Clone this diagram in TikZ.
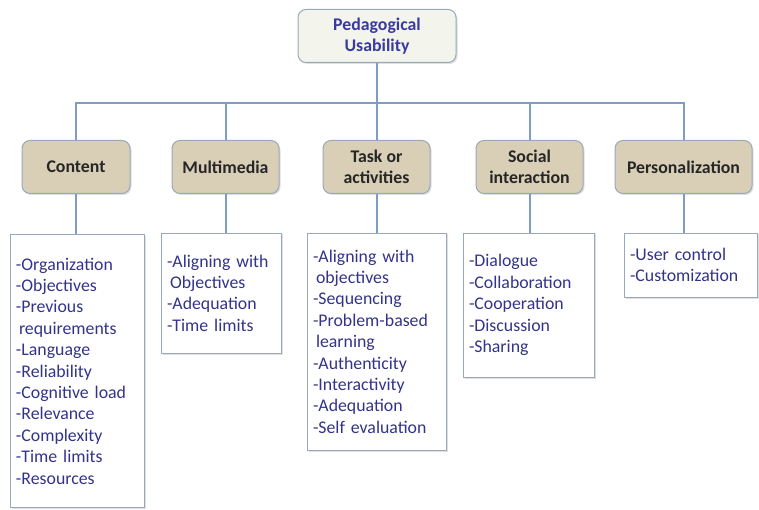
\documentclass[tikz,border=0pt]{standalone}
\usepackage{fontspec}
\setmainfont{Carlito}
\usetikzlibrary{shadows}
\definecolor{linec}{HTML}{7E9CC6}
\definecolor{listtxt}{HTML}{33338A}
\definecolor{toptxt}{HTML}{3A3A9E}
\definecolor{catfill}{HTML}{D8CFB6}
\definecolor{topfill}{HTML}{F3F5EC}
\definecolor{boxedge}{HTML}{9AA8BC}
\begin{document}
\begin{tikzpicture}[x=1pt,y=-1pt,
  conn/.style={draw=linec,line width=2pt},
  topbox/.style={draw=boxedge,line width=1pt,fill=topfill,rounded corners=8pt,
    align=center,font=\fontsize{17.8}{21.4}\selectfont\bfseries,text=toptxt,
    drop shadow={opacity=0.25,shadow xshift=1.5pt,shadow yshift=-1.5pt}},
  catbox/.style={draw=boxedge,line width=1pt,fill=catfill,rounded corners=8pt,
    align=center,font=\fontsize{17.8}{21.4}\selectfont\bfseries,text=black!85,
    minimum height=53pt,inner sep=0pt,
    drop shadow={opacity=0.25,shadow xshift=1.5pt,shadow yshift=-1.5pt}},
  listbox/.style={draw=boxedge,line width=0.9pt,fill=white,align=left,
    font=\fontsize{17.8}{21.4}\selectfont,text=listtxt,inner xsep=6pt,inner ysep=0pt,
    drop shadow={opacity=0.25,shadow xshift=1.5pt,shadow yshift=-1.5pt}},
]
\useasboundingbox (0,0) rectangle (759,510);

\node[topbox,minimum width=158pt,minimum height=53pt,inner sep=0pt] (top) at (377,36)
  {Pedagogical\\Usability};

\node[catbox,minimum width=108pt] (c1) at (76,167) {Content};
\node[catbox,minimum width=107pt] (c2) at (225.5,167) {Multimedia};
\node[catbox,minimum width=107pt] (c3) at (376.5,167) {Task or\\activities};
\node[catbox,minimum width=107pt] (c4) at (529.5,167) {Social\\interaction};
\node[catbox,minimum width=137pt] (c5) at (683.5,167) {Personalization};

\node[listbox,text width=122pt,minimum height=273pt] (l1) at (77,371)
  {-Organization\\-Objectives\\-Previous\\\hspace*{3pt}requirements\\-Language\\-Reliability\\-Cognitive load\\-Relevance\\-Complexity\\-Time limits\\-Resources};
\node[listbox,text width=108pt,minimum height=120pt] (l2) at (221,293)
  {-Aligning with\\\hspace*{3pt}Objectives\\-Adequation\\-Time limits};
\node[listbox,text width=127pt,minimum height=217pt] (l3) at (376.5,341.5)
  {-Aligning with\\\hspace*{3pt}objectives\\-Sequencing\\-Problem-based\\\hspace*{3pt}learning\\-Authenticity\\-Interactivity\\-Adequation\\-Self evaluation};
\node[listbox,text width=119pt,minimum height=144pt] (l4) at (528.5,305)
  {-Dialogue\\-Collaboration\\-Cooperation\\-Discussion\\-Sharing};
\node[listbox,text width=121pt,minimum height=64pt] (l5) at (690.5,265)
  {-User control\\-Customization};

\coordinate (bus) at (377,103);
\foreach \c in {c1,c2,c3,c4,c5}{
  \draw[conn] (top.south) -- (bus) -| (\c.north);
}
\foreach \c/\l in {c1/l1,c2/l2,c3/l3,c4/l4,c5/l5}{
  \draw[conn] (\c.south) -- (\c.south |- \l.north);
}
\end{tikzpicture}
\end{document}
